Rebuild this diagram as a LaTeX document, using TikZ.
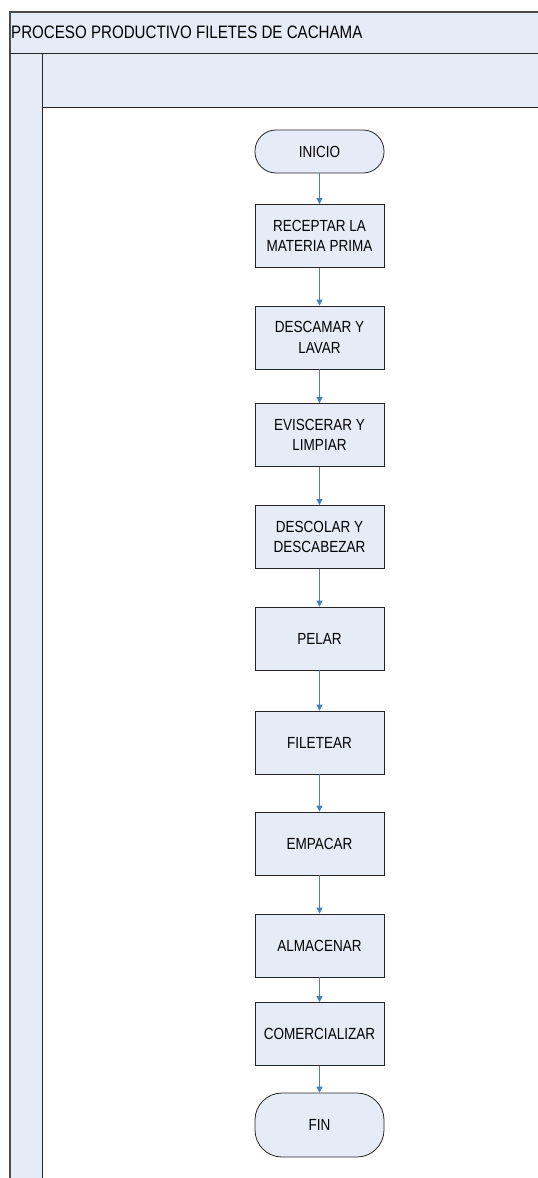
\documentclass[tikz,border=0pt]{standalone}
\usepackage{fontspec}
\setmainfont[FakeStretch=0.84]{Liberation Sans}
\usepackage{tikz}
\usetikzlibrary{arrows.meta, positioning}
\definecolor{carril}{HTML}{E6ECF7}
\definecolor{azulflecha}{HTML}{4A7EBB}

\begin{document}
\begin{tikzpicture}[x=1pt, y=-1pt, >={Triangle[length=6pt,width=6pt]},
  paso/.style={draw=black!85, line width=0.8pt, rectangle, fill=carril, minimum width=129pt, minimum height=63pt, inner sep=0pt, align=center, font=\fontsize{16.1}{20.7}\selectfont},
  terminal/.style={paso, rounded corners=21pt},
  flecha/.style={->, draw=azulflecha, fill=azulflecha, line width=0.9pt}]
	\useasboundingbox (0,0) rectangle (538,1178);
	\clip (0,0) rectangle (538,1178);
	% marco del carril
	\fill[carril] (10,12) rectangle (545,107);
	\fill[carril] (10,53) rectangle (42,1185);
	\fill[white] (42,107) rectangle (545,1185);
	\draw[black!70, line width=1.4pt] (545,12) -- (10,12) -- (10,1185);
	\draw[black!85, line width=0.8pt] (10,53) -- (545,53);
	\draw[black!85, line width=0.8pt] (42,53) -- (42,1185);
	\draw[black!85, line width=0.8pt] (42,107) -- (545,107);
	\node[anchor=west, inner sep=1pt, font=\fontsize{18}{21}\selectfont] (titulo) at (10,32.5) {PROCESO PRODUCTIVO FILETES DE CACHAMA};
	
	\node[terminal, minimum height=43pt] (inicio) at (319.5, 151.5) {INICIO};
	\node[paso] (receptar) at (319.5, 236) {RECEPTAR LA\\MATERIA PRIMA};
	\node[paso] (descamar) at (319.5, 337.5) {DESCAMAR Y\\LAVAR};
	\node[paso] (eviscerar) at (319.5, 435) {EVISCERAR Y\\LIMPIAR};
	\node[paso] (descolar) at (319.5, 537) {DESCOLAR Y\\DESCABEZAR};
	\node[paso] (pelar) at (319.5, 638.5) {PELAR};
	\node[paso] (filetear) at (319.5, 742.5) {FILETEAR};
	\node[paso] (empacar) at (319.5, 843.5) {EMPACAR};
	\node[paso] (almacenar) at (319.5, 945.5) {ALMACENAR};
	\node[paso] (comercializar) at (319.5, 1034) {COMERCIALIZAR};
	\node[terminal, minimum height=64pt, rounded corners=27pt] (fin) at (319.5, 1125) {FIN};
	
	\draw[flecha] (inicio) -- (receptar);
	\draw[flecha] (receptar) -- (descamar);
	\draw[flecha] (descamar) -- (eviscerar);
	\draw[flecha] (eviscerar) -- (descolar);
	\draw[flecha] (descolar) -- (pelar);
	\draw[flecha] (pelar) -- (filetear);
	\draw[flecha] (filetear) -- (empacar);
	\draw[flecha] (empacar) -- (almacenar);
	\draw[flecha] (almacenar) -- (comercializar);
	\draw[flecha] (comercializar) -- (fin);
\end{tikzpicture}
\end{document}
